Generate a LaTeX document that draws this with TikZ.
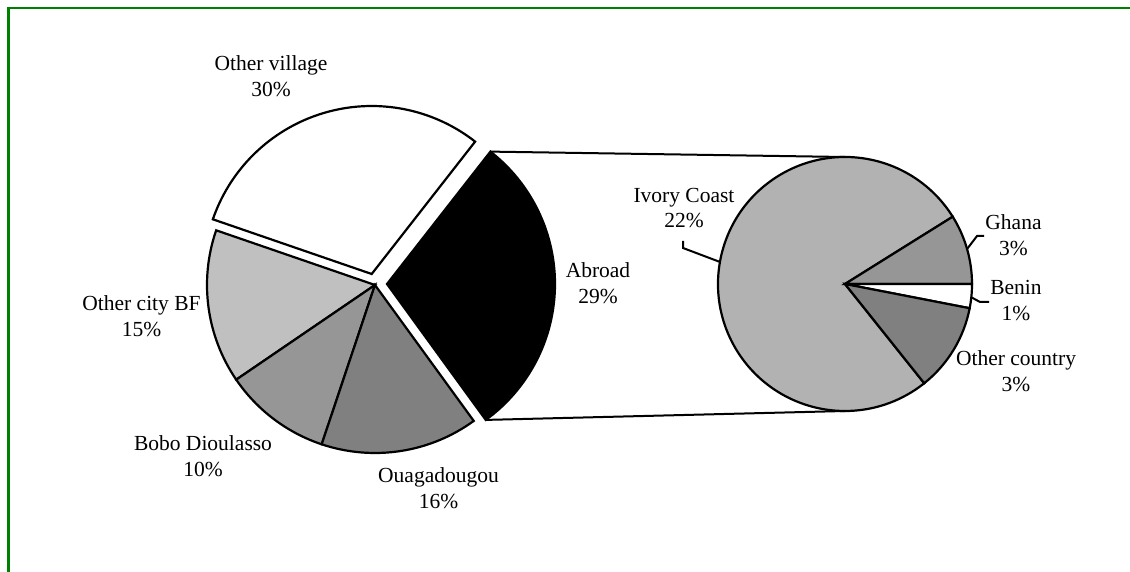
\documentclass[tikz,border=0pt]{standalone}
\usepackage{fontspec}
\setmainfont{Liberation Serif}
\usetikzlibrary{calc}
\definecolor{bordergreen}{RGB}{0,128,0}
\definecolor{cityfill}{RGB}{192,192,192}
\definecolor{bobofill}{RGB}{150,150,150}
\definecolor{ouagafill}{RGB}{128,128,128}
\definecolor{ivoryfill}{RGB}{178,178,178}
\definecolor{ghanafill}{RGB}{150,150,150}
\definecolor{otherfill}{RGB}{128,128,128}
\begin{document}
\begin{tikzpicture}[x=1pt,y=1pt,
  wedge/.style={draw=black, line width=2.2pt, line join=miter},
  lbl/.style={align=center, inner sep=0pt, font=\fontsize{21.5}{25.5}\selectfont},
  link/.style={draw=black, line width=2pt}]
\useasboundingbox (0,0) rectangle (1130,571);
\fill[white] (0,0) rectangle (1130,571);
\draw[bordergreen, line width=2.5pt] (8.5,-10) -- (8.5,563) -- (1140,563);

% centres
\coordinate (C) at (375,286);
\coordinate (Cab) at (387,287);
\coordinate (Cov) at (371.7,297);
\coordinate (S) at (845,287);
\coordinate (sT) at (845,414);
\coordinate (sB) at (845,160);
\coordinate (abT) at ($(Cab)+(52:168)$);
\coordinate (abB) at ($(Cab)+(-54:168)$);

% connectors between abroad wedge and secondary pie
\draw[link] (abT) -- (sT);
\draw[link] (abB) -- (sB);

% main pie
\filldraw[wedge, fill=black] (Cab) -- (abT) arc[start angle=52, end angle=-54, radius=168] -- cycle;
\filldraw[wedge, fill=white] (Cov) -- ++(52:168) arc[start angle=52, end angle=161, radius=168] -- cycle;
\filldraw[wedge, fill=cityfill] (C) -- ++(161:168) arc[start angle=161, end angle=214.3, radius=168] -- cycle;
\filldraw[wedge, fill=bobofill] (C) -- ++(214.3:168) arc[start angle=214.3, end angle=251.5, radius=168] -- cycle;
\filldraw[wedge, fill=ouagafill] (C) -- ++(251.5:168) arc[start angle=251.5, end angle=306, radius=168] -- cycle;

% secondary pie
\filldraw[wedge, fill=ivoryfill] (S) -- ++(32:127) arc[start angle=32, end angle=308.6, radius=127] -- cycle;
\filldraw[wedge, fill=ghanafill] (S) -- ++(0:127) arc[start angle=0, end angle=32, radius=127] -- cycle;
\filldraw[wedge, fill=white] (S) -- ++(-11:127) arc[start angle=-11, end angle=0, radius=127] -- cycle;
\filldraw[wedge, fill=otherfill] (S) -- ++(-51.4:127) arc[start angle=-51.4, end angle=-11, radius=127] -- cycle;

% labels
\node[lbl] (lov) at (271,495) {Other village\\30\%};
\node[lbl] (lcity) at (141.5,254.6) {Other city BF\\15\%};
\node[lbl] (lbobo) at (203,115) {Bobo Dioulasso\\10\%};
\node[lbl] (louaga) at (438.5,82.6) {Ouagadougou\\16\%};
\node[lbl] (labroad) at (598,288) {Abroad\\29\%};
\node[lbl] (livory) at (684,363) {Ivory Coast\\22\%};
\node[lbl] (lghana) at (1013.5,336) {Ghana\\3\%};
\node[lbl] (lbenin) at (1016,270.6) {Benin\\1\%};
\node[lbl] (lother) at (1016,199.6) {Other country\\3\%};

% leader lines
\coordinate (ivA) at ($(S)+(170:127)$);
\coordinate (ivB) at (683,323);
\coordinate (ivC) at (683,330);
\draw[link] (ivC) -- (ivB) -- (ivA);
\coordinate (ghA) at ($(S)+(16:127)$);
\coordinate (ghB) at (977,335);
\coordinate (ghC) at (984,335);
\draw[link] (ghA) -- (ghB) -- (ghC);
\coordinate (bnA) at ($(S)+(-6:127)$);
\coordinate (bnB) at (980,269);
\coordinate (bnC) at (989,269);
\draw[link] (bnA) -- (bnB) -- (bnC);
\end{tikzpicture}
\end{document}
